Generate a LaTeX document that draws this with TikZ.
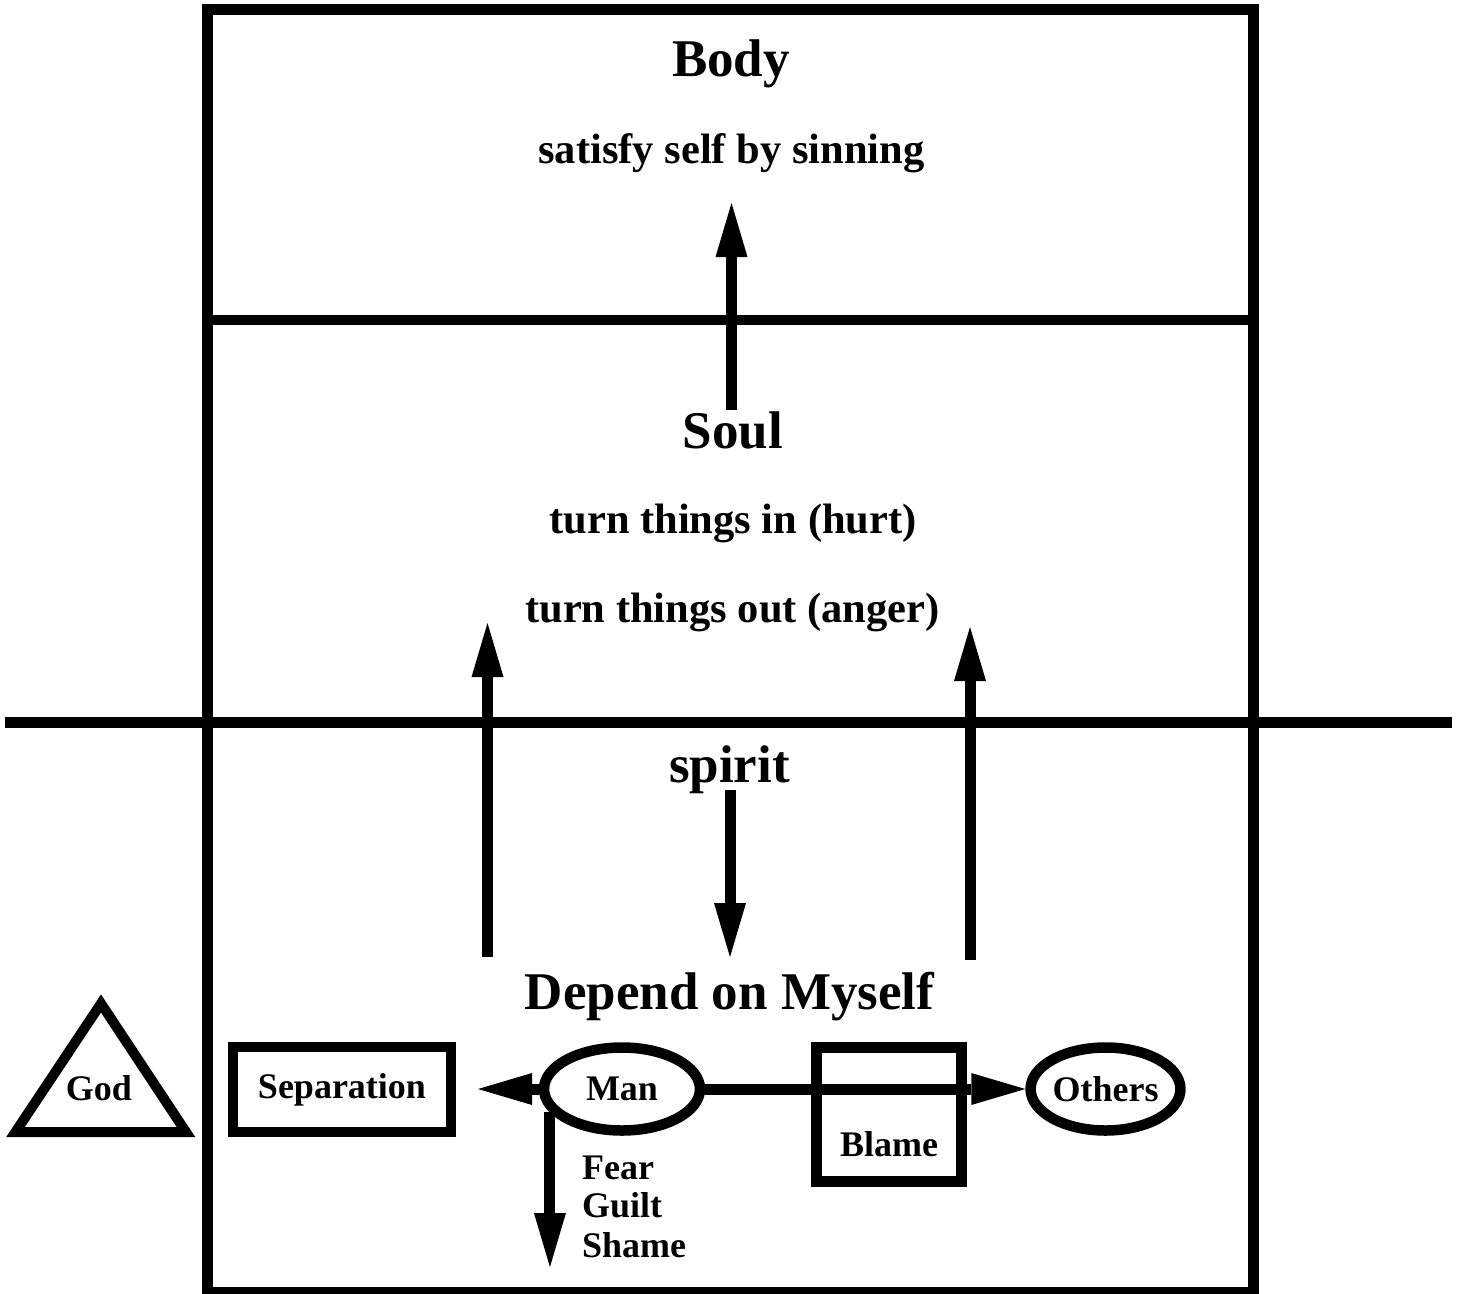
\documentclass[tikz,border=0pt]{standalone}
\usepackage{fontspec}
\setmainfont{Liberation Serif}
\usetikzlibrary{arrows.meta,shapes.geometric}
\begin{document}
\begin{tikzpicture}[x=1pt,y=-1pt,
  arr/.style={line width=11pt,-{Triangle[length=54pt,width=32pt,line width=0pt]}},
  big/.style={font=\fontsize{53}{60}\selectfont\bfseries, inner sep=0pt, anchor=base},
  mid/.style={font=\fontsize{42.5}{50}\selectfont\bfseries, inner sep=0pt, anchor=base},
  sml/.style={font=\fontsize{36}{39}\selectfont\bfseries, inner sep=0pt},
  ell/.style={draw, ellipse, line width=10.5pt, inner sep=0pt},
  boxnode/.style={draw, rectangle, line width=10.5pt, inner sep=0pt}]
\useasboundingbox (0,0) rectangle (1458,1293);
% frame and divisions
\coordinate (tl) at (207.5,9);
\coordinate (br) at (1253.5,1292);
\draw[line width=11pt] (tl) rectangle (br);
\coordinate (d1l) at (207.5,320);
\coordinate (d1r) at (1253.5,320);
\draw[line width=10pt] (d1l) -- (d1r);
\coordinate (d2l) at (5,722.5);
\coordinate (d2r) at (1452,722.5);
\draw[line width=11pt] (d2l) -- (d2r);
% texts
\node[big] (body) at (731,76.7) {Body};
\node[mid] (sat) at (731.5,163) {satisfy self by sinning};
\node[big] (soul) at (733,448) {Soul};
\node[mid] (tin) at (733,533) {turn things in (hurt)};
\node[mid] (tout) at (732.5,622) {turn things out (anger)};
\node[big] (spirit) at (729.5,782) {spirit};
\node[big] (dep) at (729.5,1009) {Depend on Myself};
% vertical arrows
\coordinate (a1s) at (731.5,410); \coordinate (a1t) at (731.5,203);
\draw[arr] (a1s) -- (a1t);
\coordinate (a2s) at (487.5,957); \coordinate (a2t) at (487.5,623);
\draw[arr] (a2s) -- (a2t);
\coordinate (a3s) at (970,960); \coordinate (a3t) at (970,627);
\draw[arr] (a3s) -- (a3t);
\coordinate (a4s) at (730,790); \coordinate (a4t) at (730,957);
\draw[arr] (a4s) -- (a4t);
% bottom row
\draw[line width=10pt, line join=miter] (15.5,1132) -- (101,1003.5) -- (186,1132) -- cycle;
\node[sml, anchor=base] (god) at (99,1100) {God};
\node[boxnode, sml, minimum width=218pt, minimum height=85pt] (sep) at (342,1089.5) {Separation};
\node[ell, sml, minimum width=156pt, minimum height=83pt] (man) at (622,1089) {Man};
\node[ell, sml, minimum width=144pt, minimum height=83pt] (others) at (1105.5,1089) {Others};
\node[boxnode, minimum width=145pt, minimum height=134pt] (blame) at (889,1114.3) {};
\node[sml, anchor=base] (blametxt) at (889,1156) {Blame};
\coordinate (sepTip) at (478,1089);
\coordinate (fgsTip) at (556,1267);
\draw[arr] (man.west) -- (sepTip);
\draw[arr] (man.east) -- (others.west);
\draw[arr] (man.198.5) -- (man.198.5 |- fgsTip);
\node[sml, anchor=base west] (fear) at (582,1179) {Fear};
\node[sml, anchor=base west] (guilt) at (582,1217) {Guilt};
\node[sml, anchor=base west] (shame) at (582,1257) {Shame};
\end{tikzpicture}
\end{document}
